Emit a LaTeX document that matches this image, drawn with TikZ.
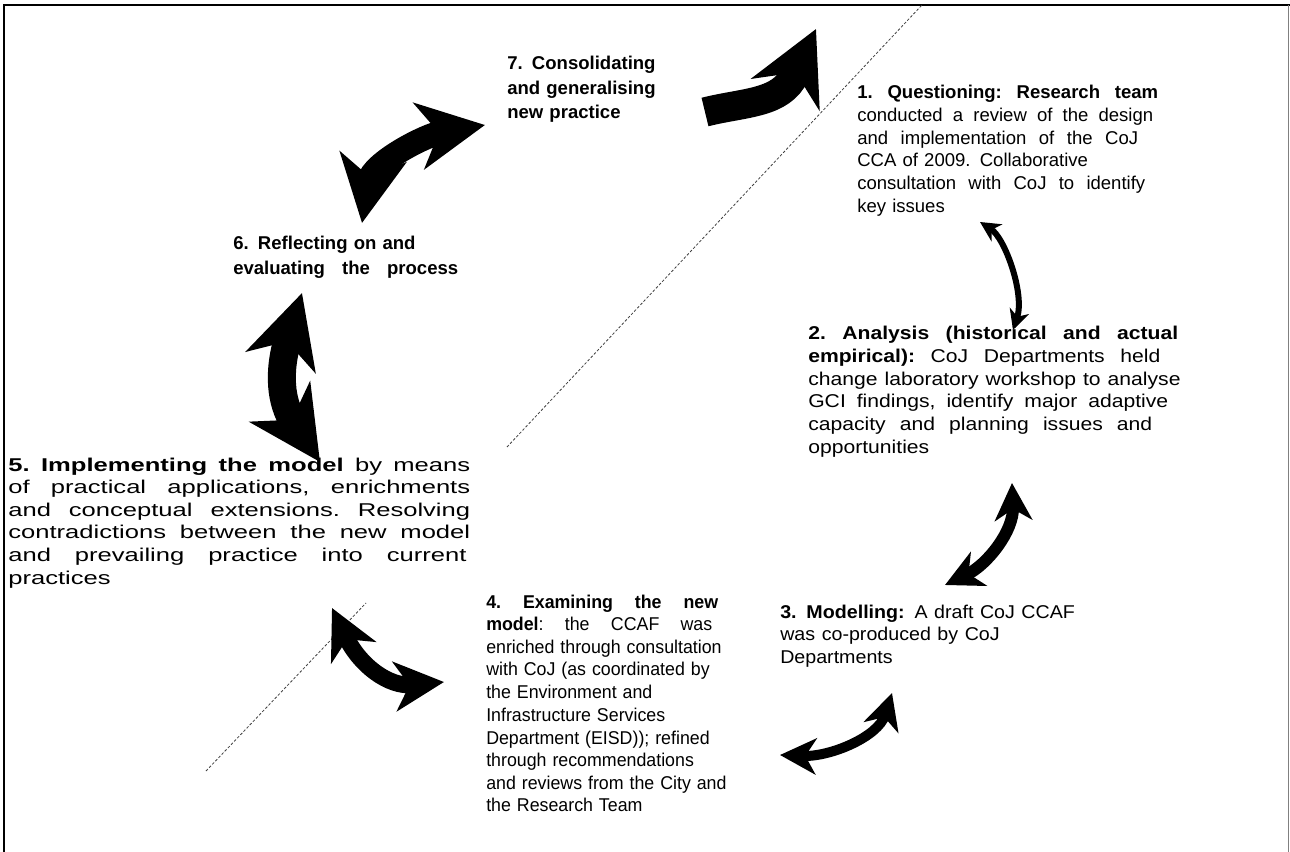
\documentclass[tikz,border=0pt]{standalone}
\usepackage{fontspec}
\setmainfont{Liberation Sans}
\usetikzlibrary{arrows.meta}

\newcommand{\fillto}[2]{\makebox[#1][s]{\frenchspacing\spaceskip=.3333em plus 2em\xspaceskip=.3333em plus 2em #2}}

\tikzset{
  stage/.style={anchor=base west, inner sep=0pt, align=left, font=\fontsize{13.9}{17}\selectfont},
  boldstage/.style={stage, font=\bfseries\fontsize{13.9}{18.2}\selectfont},
  cyc/.style n args={3}{line width=#1, arrows={Stealth[length=#2,width=#2,inset=#3]-Stealth[length=#2,width=#2,inset=#3]}},
  guide/.style={black!75, line width=0.6pt, dash pattern=on 2pt off 1.4pt},
}

\begin{document}
\begin{tikzpicture}[x=0.75pt, y=-0.75pt]
\useasboundingbox (0,0) rectangle (1290,852);

\draw[line width=1.5pt] (4,852) -- (4,5) -- (1290,5);
\draw[gray, line width=1pt] (1288.5,5) -- (1288.5,852);

\coordinate (g1) at (507,447);
\coordinate (g2) at (922,5);
\coordinate (g3) at (206,771);
\coordinate (g4) at (366,603);
\draw[guide] (g1) -- (g2);
\draw[guide] (g3) -- (g4);

\node[boldstage, text width=200pt] (consolidating) at (507,70) {7. Consolidating\\and generalising\\new practice};
\node[stage, text width=240pt] (questioning) at (857,99) {\fillto{225.7pt}{\textbf{1. Questioning: Research team}}\\\fillto{222pt}{conducted a review of the design}\\\fillto{210.7pt}{and implementation of the CoJ}\\CCA of 2009. Collaborative\\\fillto{216pt}{consultation with CoJ to identify}\\key issues};
\node[boldstage, text width=200pt] (reflecting) at (233,250) {6. Reflecting on and\\\fillto{168.7pt}{evaluating the process}};
\node[stage, text width=290pt, xscale=1.14, transform shape] (analysis) at (808,340) {\fillto{243.4pt}{\textbf{2. Analysis (historical and actual}}\\\fillto{231.6pt}{\textbf{empirical):} CoJ Departments held}\\change laboratory workshop to analyse\\\fillto{236.8pt}{GCI findings, identify major adaptive}\\\fillto{226.3pt}{capacity and planning issues and}\\opportunities};
\node[stage, text width=360pt, xscale=1.38, transform shape] (implementing) at (8,471) {\fillto{251pt}{\textbf{5. Implementing the model} by means}\\\fillto{251pt}{of practical applications, enrichments}\\\fillto{251pt}{and conceptual extensions. Resolving}\\\fillto{251pt}{contradictions between the new model}\\\fillto{249pt}{and prevailing practice into current}\\practices};
\node[stage, text width=190pt, xscale=0.96, transform shape] (examining) at (486,608) {\fillto{181.2pt}{\textbf{4. Examining the new}}\\\fillto{176.6pt}{\textbf{model}: the CCAF was}\\enriched through consultation\\with CoJ (as coordinated by\\the Environment and\\Infrastructure Services\\Department (EISD)); refined\\through recommendations\\and reviews from the City and\\the Research Team};
\node[stage, text width=240pt, xscale=1.06, transform shape] (modelling) at (780,618) {\textbf{3. Modelling:} A draft CoJ CCAF\\was co-produced by CoJ\\Departments};

% arrow ends
\coordinate (a7s) at (705,112);
\coordinate (a7m) at (795,74);
\coordinate (a7e) at (816,29);
\coordinate (a76s) at (362,223);
\coordinate (a76e) at (485,125);
\coordinate (a65s) at (302,293);
\coordinate (a65e) at (320,462);
\coordinate (a54s) at (332,608);
\coordinate (a54e) at (444,682);
\coordinate (a43s) at (780,755);
\coordinate (a43e) at (892,693);
\coordinate (a32s) at (945,585);
\coordinate (a32e) at (1012,483);
\coordinate (a21s) at (980,222);
\coordinate (a21e) at (1013,330);

\draw[line width=22pt, -{Stealth[length=54pt,width=56pt,inset=18pt]}] (a7s) .. controls +(40,-10) and +(-14,30) .. (a7m) -- (a7e);
\draw[cyc={18pt}{50pt}{15pt}] (a76s) .. controls +(10,-60) and +(-60,10) .. (a76e);
\draw[cyc={21pt}{54pt}{16pt}] (a65s) .. controls +(-24,78) and +(-40,-60) .. (a65e);
\draw[cyc={12.5pt}{37pt}{11pt}] (a54s) .. controls +(28,58) and +(-55,5) .. (a54e);
\draw[cyc={7.5pt}{27pt}{8pt}] (a43s) .. controls +(50,2) and +(-14,44) .. (a43e);
\draw[cyc={9pt}{28pt}{8.5pt}] (a32s) .. controls +(42,-20) and +(2,48) .. (a32e);
\draw[cyc={4.5pt}{15pt}{4.5pt}] (a21s) .. controls +(25,16) and +(12,-36) .. (a21e);
\end{tikzpicture}
\end{document}
